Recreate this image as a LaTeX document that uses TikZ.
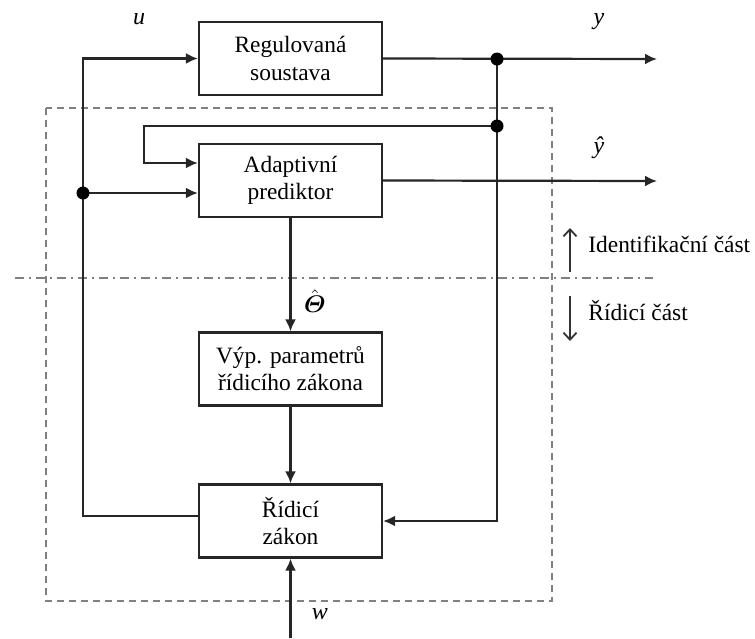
\documentclass[tikz,border=0pt]{standalone}
\usepackage{fontspec}
\setmainfont{Liberation Serif}
\usepackage{bm}
\usetikzlibrary{arrows.meta}

\tikzset{
    blok/.style={draw, line width=1.1pt, black!85, text=black, minimum width=91.5pt, minimum height=36.5pt,
        align=center, inner sep=2pt, font=\fontsize{11.7}{13.6}\selectfont},
    spoj/.style={line width=1.1pt, black!85},
    sig/.style={spoj, -{Latex[length=6pt,width=5.5pt]}},
    uzel/.style={circle, fill=black, inner sep=0pt, minimum size=6.5pt},
    popis/.style={font=\fontsize{12}{14}\selectfont\itshape},
    cast/.style={font=\fontsize{11.7}{13.6}\selectfont, anchor=west, inner sep=0pt},
    ramec/.style={line width=1.1pt, gray, dash pattern=on 3.5pt off 2.5pt},
    predel/.style={line width=1.1pt, gray, dash pattern=on 4.5pt off 2.5pt on 1pt off 2.5pt},
    smer/.style={line width=0.9pt, black!80, -{Straight Barb[length=3.5pt,width=6.5pt]}}
}

\begin{document}
\begin{tikzpicture}[x=0.5pt, y=-0.5pt]
                \useasboundingbox (0,0) rectangle (755,638);

                \node[blok] (soustava) at (290.5,58.5) {Regulovaná\\soustava};
                \node[blok] (prediktor) at (290.5,180.5) {Adaptivní\\prediktor};
                \node[blok] (parametry) at (290.5,369) {Výp. parametrů\\řídicího zákona};
                \node[blok] (zakon) at (290.5,521) {Řídicí\\zákon};

                \coordinate (uj) at (83,193);
                \coordinate (yj) at (497,59);
                \coordinate (fj) at (497,126);
                \coordinate (fk) at (144,126);
                \coordinate (yout) at (657,59);
                \coordinate (yhout) at (657,181);
                \coordinate (win) at (290.5,638);

                \draw[ramec] (46,108) rectangle (552,601);
                \draw[predel] (15,278) -- (653,278);

                \draw[sig]
                    ([yshift=2.5pt]zakon.west) -| (uj) |- (soustava.west);
                \draw[sig]
                    (uj) -- (uj -| prediktor.west);
                \draw[sig]
                    (fj) -- (fk) |- ([yshift=8.75pt]prediktor.west);
                \draw[sig]
                    (soustava.east) -- (yout);
                \draw[sig]
                    (prediktor.east) -- (yhout);
                \draw[sig]
                    (yj) |- (zakon.east);
                \draw[sig]
                    (prediktor.south) -- (parametry.north);
                \draw[sig]
                    (parametry.south) -- (zakon.north);
                \draw[sig]
                    (win) -- (zakon.south);

                \node[uzel] at (uj) {};
                \node[uzel] at (yj) {};
                \node[uzel] at (fj) {};

                \node[popis] (lu) at (139,19) {u};
                \node[popis] (ly) at (599,22) {y};
                \node[popis] (lyh) at (599,148) {ŷ};
                \node[font=\fontsize{13}{15}\selectfont] (lth) at (315,301) {$\hat{\bm{\mathnormal{\Theta}}}$};
                \node[popis] (lw) at (320,614) {w};

                \draw[smer] (570,272) -- (570,228);
                \draw[smer] (570,296) -- (570,341);
                \node[cast] (ident) at (588,244) {Identifikační část};
                \node[cast] (ridici) at (588,311) {Řídicí část};
            \end{tikzpicture}
\end{document}
